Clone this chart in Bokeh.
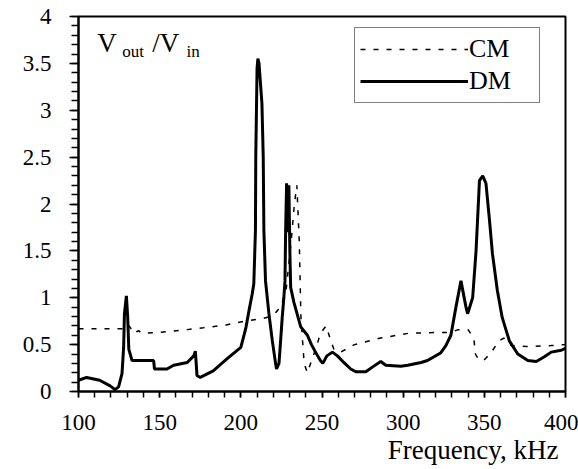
from bokeh.plotting import figure
from bokeh.models import (SingleIntervalTicker, FixedTicker, Legend, LegendItem,
                          Label, Title, ColumnDataSource)
from bokeh.embed import file_html
from bokeh.resources import INLINE

# ---------------- data ----------------
cm_freq = [100, 120, 127, 130, 132, 134, 137, 139, 150, 167, 177, 191, 202, 214, 218,
           222, 225, 228, 231, 233, 234.5, 236, 237, 239, 241, 244, 247, 249, 252.5,
           255.5, 257.5, 261.5, 270, 286, 303, 320, 329, 334, 340, 343.5, 344.5,
           346.5, 349.5, 354, 359, 362, 366.5, 376, 391, 400]
cm_val = [0.67, 0.67, 0.67, 0.72, 0.68, 0.62, 0.65, 0.62, 0.63, 0.66, 0.68, 0.71, 0.75,
          0.78, 0.80, 0.85, 0.92, 1.1, 1.6, 2.0, 2.2, 1.6, 0.8, 0.3, 0.2, 0.35, 0.5,
          0.62, 0.7, 0.54, 0.44, 0.42, 0.5, 0.57, 0.62, 0.63, 0.63, 0.66, 0.66, 0.57,
          0.4, 0.34, 0.33, 0.41, 0.54, 0.57, 0.49, 0.48, 0.49, 0.5]

dm_freq = [100, 105, 113, 119.5, 122.5, 124.7, 126.8, 127.8, 128.3, 129.5, 130.3, 131,
           133, 146.3, 146.8, 154.5, 158.6, 167, 171, 172, 173, 175, 183, 191.6, 200,
           203, 205, 207, 208, 209, 209.2, 210, 210.5, 211.2, 213, 213.8, 214.2, 215.2,
           217.3, 219.4, 221.4, 222, 223.5, 224.5, 225.5, 226.5, 227.2, 227.6, 228.2,
           229, 229.6, 230.2, 230.7, 232.7, 236.9, 241, 243.5, 246, 249, 250.5, 253,
           256.4, 259.5, 263.4, 267.7, 270.8, 277, 281, 286.2, 289.3, 298.6, 302.8,
           311, 315, 319, 323, 326.3, 329.4, 332.5, 335.6, 338.7, 339.7, 342.8, 344.9,
           347, 349, 351, 353, 355, 358, 361, 365.4, 370.6, 376.8, 382, 387, 391.2,
           397.4, 400]
dm_val = [0.12, 0.15, 0.12, 0.06, 0.02, 0.05, 0.19, 0.47, 0.83, 1.02, 0.79, 0.45,
          0.33, 0.33, 0.24, 0.24, 0.28, 0.31, 0.38, 0.43, 0.17, 0.15, 0.22, 0.35, 0.47,
          0.67, 0.86, 1.04, 1.15, 1.72, 2.5, 3.45, 3.55, 3.5, 3.07, 2.5, 1.72, 1.18,
          0.83, 0.54, 0.3, 0.24, 0.3, 0.54, 0.79, 1.0, 1.18, 1.72, 2.22,
          1.7, 2.2, 1.5, 1.11, 0.95, 0.69, 0.6, 0.5, 0.42, 0.33, 0.3, 0.38,
          0.42, 0.38, 0.31, 0.24, 0.21, 0.21, 0.26, 0.32, 0.28, 0.27, 0.28,
          0.31, 0.33, 0.37, 0.41, 0.49, 0.6, 0.9, 1.18, 0.9, 0.83, 1.0, 1.5,
          2.25, 2.3, 2.22, 1.86, 1.47, 1.08, 0.79, 0.54, 0.4, 0.33, 0.32, 0.37, 0.42,
          0.44, 0.46]

y_ticks = [0, 0.5, 1, 1.5, 2, 2.5, 3, 3.5, 4]
y_tick_labels = ["0", "0.5", "1", "1.5", "2", "2.5", "3", "3.5", "4"]
series_names = ["CM", "DM"]
x_title = "Frequency, kHz"

FONT = "Liberation Serif"

p = figure(width=578, height=469, x_range=(100, 400), y_range=(0, 4),
           output_backend="svg", toolbar_location=None,
           min_border_left=78, min_border_right=13, min_border_top=16,
           min_border_bottom=78)
p.background_fill_color = "white"
p.border_fill_color = "white"
p.xgrid.visible = False
p.ygrid.visible = False
p.outline_line_color = "black"
p.outline_line_width = 2

# axes
p.xaxis.ticker = SingleIntervalTicker(interval=50, num_minor_ticks=5)
p.yaxis.ticker = FixedTicker(ticks=y_ticks,
                             minor_ticks=[i / 10 for i in range(0, 41)])
p.yaxis.major_label_overrides = {t: l for t, l in zip(y_ticks, y_tick_labels)}
for ax in (p.xaxis[0], p.yaxis[0]):
    ax.axis_line_color = "black"
    ax.axis_line_width = 2
    ax.major_tick_line_color = "black"
    ax.minor_tick_line_color = "black"
    ax.major_tick_line_width = 1.5
    ax.minor_tick_line_width = 1.5
    ax.major_tick_in = 0
    ax.minor_tick_in = 0
    ax.major_label_text_font = FONT
    ax.major_label_text_font_size = "23px"
    ax.major_label_text_font_style = "normal"
    ax.major_label_text_color = "black"
p.yaxis.major_tick_out = 9
p.yaxis.minor_tick_out = 7
p.yaxis.major_label_standoff = 18
p.xaxis.major_tick_out = 6
p.xaxis.minor_tick_out = 6
p.xaxis.major_label_standoff = 17

cm_src = ColumnDataSource(dict(x=cm_freq, y=cm_val))
dm_src = ColumnDataSource(dict(x=dm_freq, y=dm_val))
r_cm = p.line("x", "y", source=cm_src, line_color="black", line_width=1.5,
              line_dash="5 8")
r_dm = p.line("x", "y", source=dm_src, line_color="black", line_width=3)

legend = Legend(items=[LegendItem(label=series_names[0], renderers=[r_cm]),
                       LegendItem(label=series_names[1], renderers=[r_dm])],
                location=(276, 288), orientation="vertical",
                glyph_width=108, glyph_height=32, label_standoff=1,
                label_width=65, label_height=32, padding=5, spacing=0, margin=0,
                label_text_font=FONT, label_text_font_size="26px",
                label_text_color="black",
                border_line_color="black", border_line_width=1.5,
                background_fill_color="white", background_fill_alpha=1)
p.add_layout(legend, "center")

# y-title  V_out / V_in
for txt, xx, yy, size in [("V", 111.5, 3.72, "27px"), ("out", 127, 3.63, "17px"),
                          ("/V", 145.5, 3.72, "27px"), ("in", 166.5, 3.63, "17px")]:
    p.add_layout(Label(x=xx, y=yy, text=txt, text_font=FONT, text_font_size=size,
                       text_color="black", text_baseline="alphabetic",
                       text_align="left"))

# x title, right aligned under the axis
p.add_layout(Title(text=x_title, align="right", text_font=FONT,
                   text_font_size="27px", text_font_style="normal",
                   text_color="black", standoff=0, offset=7), "below")

open("out.html", "w").write(file_html(p, INLINE))
